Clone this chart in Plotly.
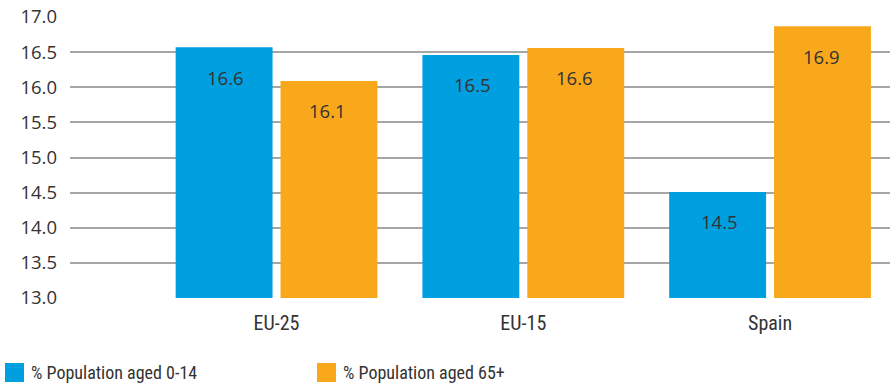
import plotly.graph_objects as go

regions = ['EU-25', 'EU-15', 'Spain']
series_names = ['% Population aged 0-14', '% Population aged 65+']
young = [16.57, 16.46, 14.51]
old = [16.09, 16.56, 16.87]
young_labels = ['16.6', '16.5', '14.5']
old_labels = ['16.1', '16.6', '16.9']
y_ticks = [13.0, 13.5, 14.0, 14.5, 15.0, 15.5, 16.0, 16.5, 17.0]

blue = '#009FE0'
orange = '#F9A81C'
text_col = '#333333'
num_font = 'Open Sans, DejaVu Sans, sans-serif'
narrow_font = 'Liberation Sans Narrow, Roboto Condensed, Arial Narrow, Roboto, sans-serif'

fig = go.Figure()
fig.add_trace(go.Bar(x=regions, y=young, name=series_names[0], marker_color=blue,
                     marker_line_width=0, showlegend=False))
fig.add_trace(go.Bar(x=regions, y=old, name=series_names[1], marker_color=orange,
                     marker_line_width=0, showlegend=False))

# value labels, placed a little below the top of each bar
for vals, labels, shift in [(young, young_labels, -51), (old, old_labels, 51)]:
    for r, v, t in zip(regions, vals, labels):
        fig.add_annotation(x=r, y=v, text=t, showarrow=False, xshift=shift, yshift=-30,
                           font=dict(family=num_font, size=18.5, color=text_col))

# legend drawn by hand so the swatches match the original size
for i, (name, col) in enumerate(zip(series_names, [blue, orange])):
    x0 = 5 + i * 312
    fig.add_shape(type='rect', xref='paper', yref='paper',
                  x0=(x0 - 70) / 820, x1=(x0 + 19 - 70) / 820,
                  y0=(298 - 382) / 281, y1=(298 - 363) / 281,
                  fillcolor=col, line_width=0)
    fig.add_annotation(xref='paper', yref='paper', x=(x0 + 24 - 70) / 820, y=(298 - 372) / 281,
                       text=name, showarrow=False, xanchor='left', yanchor='middle',
                       font=dict(family=narrow_font, size=18, color=text_col))

fig.update_layout(
    width=890, height=386,
    margin=dict(l=70, r=0, t=17, b=88),
    paper_bgcolor='white', plot_bgcolor='white',
    barmode='group', bargap=0.15, bargroupgap=0.076,
    xaxis=dict(range=[-0.837, 2.486], showgrid=False, zeroline=False, showline=False,
               ticks='', ticklabelstandoff=11,
               tickfont=dict(family=narrow_font, size=20, color=text_col)),
    yaxis=dict(range=[13, 17], tickvals=y_ticks, ticktext=[f'{v:.1f}' for v in y_ticks],
               showgrid=True, gridcolor='#A6A6A6', gridwidth=1.5, zeroline=False,
               showline=False, ticks='', ticklabelstandoff=12,
               tickfont=dict(family=num_font, size=18.5, color=text_col)),
)

fig.write_html('out.html', config={'displayModeBar': False},
               post_script="document.body.style.margin='0';")
